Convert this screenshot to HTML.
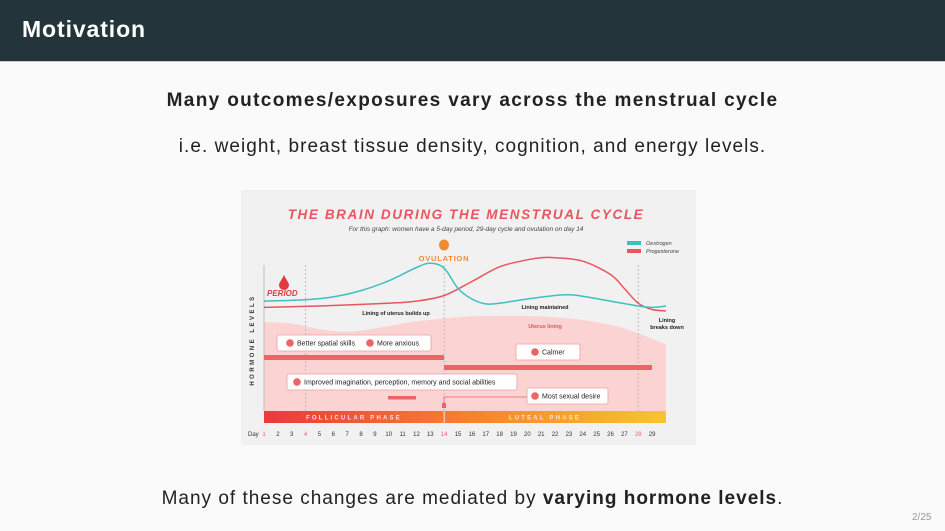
<!DOCTYPE html>
<html><head><meta charset="utf-8"><style>
html,body{margin:0;padding:0}
body{width:945px;height:531px;position:relative;overflow:hidden;background:#fafafa;font-family:"Liberation Sans","DejaVu Sans",sans-serif;color:#222}
.hdr{position:absolute;left:0;top:0;width:945px;height:61px;background:#23353b;border-bottom:1px solid #c8c8d0}
.hdr span{position:absolute;left:22px;top:16px;color:#fff;font-size:23px;font-weight:bold;letter-spacing:0.9px}
.t{position:absolute;left:0;width:945px;text-align:center;font-size:19px}
svg{position:absolute;left:0;top:0}
</style></head><body>
<div class="hdr"><span>Motivation</span></div>
<div class="t" style="top:90px;font-weight:bold;letter-spacing:1.35px">Many outcomes/exposures vary across the menstrual cycle</div>
<div class="t" style="top:136px;letter-spacing:1.05px">i.e. weight, breast tissue density, cognition, and energy levels.</div>
<div class="t" style="top:488px;letter-spacing:1px">Many of these changes are mediated by <b>varying hormone levels</b>.</div>
<div style="position:absolute;left:912px;top:512px;font-size:10px;color:#999">2/25</div>

<svg id="chart" width="945" height="531">
<rect x="241" y="190" width="455" height="255" fill="#f1f1f1"/>
<text x="466" y="219" text-anchor="middle" font-size="13.5" font-weight="bold" font-style="italic" fill="#e8555d" letter-spacing="1.6">THE BRAIN DURING THE MENSTRUAL CYCLE</text>
<text x="466" y="231" text-anchor="middle" font-size="6.5" font-style="italic" fill="#444">For this graph: women have a 5-day period, 29-day cycle and ovulation on day 14</text>
<g id="g"></g>
</svg>
<script>
const days=[1,2,3,4,5,6,7,8,9,10,11,12,13,14,15,16,17,18,19,20,21,22,23,24,25,26,27,28,29];
const highlightDays=[4,14,28];
const dayPts=[1,4,6,8,10,12,13,14,15,16,17,18,20,22,23,24,26,28,29,30];
const oestrogen=[27,29,33,42,56,75,81,74,45,30,23,24,30,35,36,34,27,20,18,20];
const progDays=[1,5,10,12,14,16,18,20,21,22,24,26,27,28,29,30];
const progesterone=[18,20,24,27,35,55,76,86,89,89,84,65,45,24,15,13];
const liningDays=[1,3,5,7,9,12,15,18,21,24,27,30];
const lining=[-3,-5,-13,-17,-12,-2,4,6,5,0,-12,-35];
const X=d=>264+(d-1)*13.86;
const Y=v=>320-v*0.7;
const NS="http://www.w3.org/2000/svg";
const g=document.getElementById('g');
function mk(t,a,txt){const e=document.createElementNS(NS,t);for(const k in a)e.setAttribute(k,a[k]);if(txt!==undefined)e.textContent=txt;g.appendChild(e);return e;}
function smooth(xs,ys){const p=xs.map((d,i)=>[X(d),Y(ys[i])]);let s=`M${p[0][0]},${p[0][1]}`;
for(let i=0;i<p.length-1;i++){const p0=p[Math.max(0,i-1)],p1=p[i],p2=p[i+1],p3=p[Math.min(p.length-1,i+2)];
s+=` C${p1[0]+(p2[0]-p0[0])/6},${p1[1]+(p2[1]-p0[1])/6} ${p2[0]-(p3[0]-p1[0])/6},${p2[1]-(p3[1]-p1[1])/6} ${p2[0]},${p2[1]}`;}return s;}
let la=mk('path',{d:smooth(liningDays,lining)+` L${X(30)},411 L${X(1)},411 Z`,fill:'#fcd3d3'});

let ax=mk('line',{x1:264,y1:265,x2:264,y2:411,stroke:'#bbb','stroke-width':1});

[4,14,28].forEach(d=>{let l=mk('line',{x1:X(d),y1:265,x2:X(d),y2:411,stroke:'#bbb','stroke-dasharray':'2,2'});
});
let pc=mk('path',{d:smooth(progDays,progesterone),fill:'none',stroke:'#e8555d','stroke-width':1.5});

let oc=mk('path',{d:smooth(dayPts,oestrogen),fill:'none',stroke:'#3fbfc0','stroke-width':1.5});

let t;
t=mk('text',{x:254,y:340,'font-size':6,'font-weight':'bold','letter-spacing':2.5,fill:'#333','text-anchor':'middle',transform:'rotate(-90 254 340)'},'HORMONE LEVELS');
t=mk('path',{d:'M284,275 C281,281 279,283 279,285 a5,5 0 0 0 10,0 C289,283 287,281 284,275Z',fill:'#e03a3e'});
t=mk('text',{x:267,y:296,'font-size':8,'font-weight':'bold','font-style':'italic',fill:'#e03a3e'},'PERIOD');
t=mk('ellipse',{cx:444,cy:245,rx:5,ry:5.5,fill:'#f08a30'});
t=mk('text',{x:444,y:261,'font-size':7.5,'font-weight':'bold',fill:'#f08a30','text-anchor':'middle','letter-spacing':0.8},'OVULATION');
t=mk('rect',{x:627,y:241,width:14,height:4,fill:'#3fbfc0'});
t=mk('text',{x:646,y:245,'font-size':5.5,'font-style':'italic',fill:'#444'},'Oestrogen');
t=mk('rect',{x:627,y:249,width:14,height:4,fill:'#e8555d'});
t=mk('text',{x:646,y:253,'font-size':5.5,'font-style':'italic',fill:'#444'},'Progesterone');
[[396,315,'Lining of uterus builds up','#222'],[545,309,'Lining maintained','#222'],[545,328,'Uterus lining','#e8555d'],[667,322,'Lining','#222'],[667,329,'breaks down','#222']].forEach(a=>{
t=mk('text',{x:a[0],y:a[1],'font-size':5.5,'font-weight':'bold',fill:a[3],'text-anchor':'middle'},a[2]);});
[[264,355,180,5],[444,365,208,5],[388,396,28,3.5],[442,403,4,5]].forEach(b=>{
t=mk('rect',{x:b[0],y:b[1],width:b[2],height:b[3],fill:'#ec6466'});});
t=mk('polyline',{points:'444,403 444,397 527,397',fill:'none',stroke:'#ec6466','stroke-width':0.8});
function box(x,y,w,items){let r=mk('rect',{x:x,y:y,width:w,height:16,rx:2,fill:'#fff',stroke:'#e8a0a0','stroke-width':0.8});

items.forEach(it=>{let c=mk('circle',{cx:it[0],cy:y+8,r:3.8,fill:'#ec6466'});
let tx=mk('text',{x:it[0]+7,y:y+10.5,'font-size':7,fill:'#222'},it[1]);});}
box(277,335,154,[[290,'Better spatial skills'],[370,'More anxious']]);
box(516,344,64,[[535,'Calmer']]);
box(287,374,230,[[297,'Improved imagination, perception, memory and social abilities']]);
box(527,388,81,[[535,'Most sexual desire']]);
let defs=document.createElementNS(NS,'defs');defs.innerHTML='<linearGradient id="pg" x1="0" x2="1"><stop offset="0" stop-color="#e83a3a"/><stop offset="0.45" stop-color="#f47a30"/><stop offset="1" stop-color="#f9c330"/></linearGradient>';g.appendChild(defs);
t=mk('rect',{x:264,y:411,width:X(30)-264,height:12,fill:'url(#pg)'});
t=mk('line',{x1:X(14),y1:411,x2:X(14),y2:423,stroke:'#fff','stroke-width':0.8});
t=mk('text',{x:354,y:419.5,'font-size':6,'font-weight':'bold',fill:'#fde','text-anchor':'middle','letter-spacing':2.2},'FOLLICULAR PHASE');
t=mk('text',{x:545,y:419.5,'font-size':6,'font-weight':'bold',fill:'#fde','text-anchor':'middle','letter-spacing':2.2},'LUTEAL PHASE');
t=mk('text',{x:248,y:436,'font-size':6,fill:'#333'},'Day');
days.forEach(d=>{let e=mk('text',{x:X(d),y:436,'font-size':6,fill:highlightDays.concat([1]).includes(d)?'#ec6466':'#333','text-anchor':'middle'},String(d));
});
</script>
</body></html>
